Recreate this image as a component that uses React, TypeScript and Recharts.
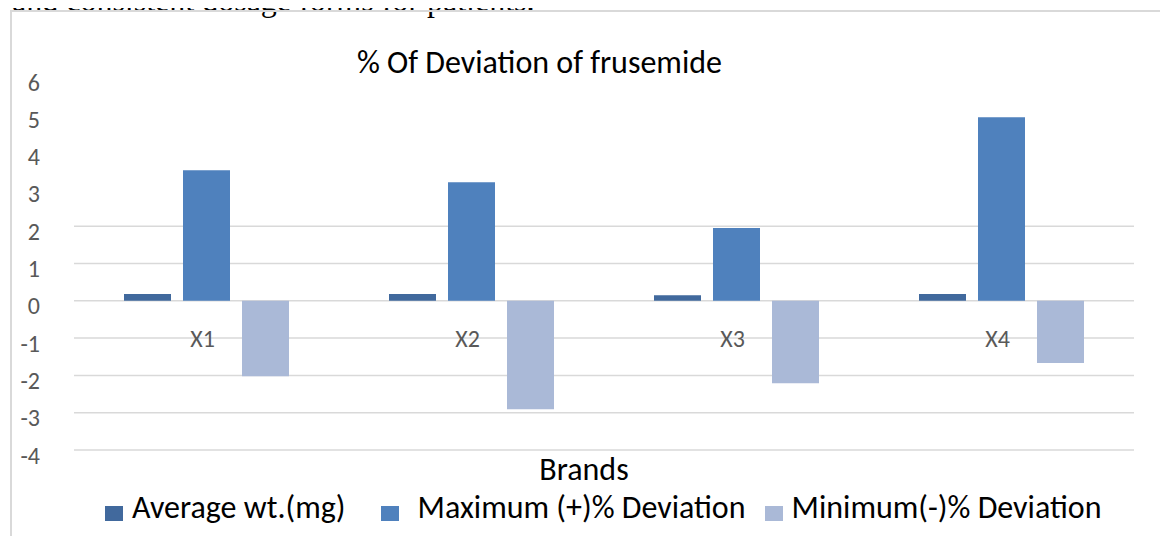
import React from 'react';
import { BarChart, Bar, XAxis, YAxis, CartesianGrid, Legend } from 'recharts';

const categories = ['X1', 'X2', 'X3', 'X4'];
const averageWt = [0.18, 0.18, 0.15, 0.18];
const maxDeviation = [3.5, 3.18, 1.95, 4.92];
const minDeviation = [-2.02, -2.91, -2.21, -1.67];
const yTicks = [6, 5, 4, 3, 2, 1, 0, -1, -2, -3, -4];
const gridValues = [2, 1, 0, -1, -2, -3, -4];

const seriesNames = ['Average wt.(mg)', 'Maximum (+)% Deviation', 'Minimum(-)% Deviation'];
const seriesColors = ['#41699d', '#4f81bd', '#aab9d7'];

const data = categories.map((c, i) => ({
  name: c,
  avg: averageWt[i],
  max: maxDeviation[i],
  min: minDeviation[i],
}));

const FONT = 'Carlito, Calibri, Lato, sans-serif';

const YTick = (props: any) => {
  const { y, payload } = props;
  return (
    <text x={40} y={y + 5} textAnchor="end" dominantBaseline="central" fontFamily={FONT} fontSize={24} fill="#595959">
      {payload.value}
    </text>
  );
};

const XTick = (props: any) => {
  const { x, y, payload } = props;
  return (
    <text x={x - 4} y={y - 112} textAnchor="middle" dominantBaseline="central" fontFamily={FONT} fontSize={24} fill="#595959">
      {payload.value}
    </text>
  );
};

const legendGaps = [0, 35, 19];
const keyTextGaps = [9, 19, 9];

const LegendContent = () => (
  <div style={{ display: 'flex', alignItems: 'flex-start', fontFamily: FONT, fontSize: 32, color: '#000', whiteSpace: 'pre', lineHeight: '38px' }}>
    {seriesNames.map((n, i) => (
      <div key={n} style={{ display: 'flex', alignItems: 'flex-start', marginLeft: legendGaps[i] }}>
        <div style={{ width: 18, height: 15, background: seriesColors[i], marginRight: keyTextGaps[i], marginTop: 17 }} />
        <span>{n}</span>
      </div>
    ))}
  </div>
);

export default function App() {
  return (
    <div style={{ position: 'relative', width: 1168, height: 544, margin: -8, overflow: 'hidden', background: '#fff' }}>
      <div style={{ position: 'absolute', left: 12, top: -14.7, fontFamily: "'Liberation Serif', 'Times New Roman', serif", fontSize: 32, lineHeight: '30px', color: '#000', whiteSpace: 'nowrap' }}>
        and consistent dosage forms for patients.
      </div>
      <div style={{ position: 'absolute', left: 10, top: 10, width: 1300, height: 700, border: '2px solid #d9d9d9', boxSizing: 'border-box' }} />
      <div style={{ position: 'absolute', left: 0, top: 0 }}>
        <BarChart width={1168} height={544} data={data} margin={{ top: 77, right: 34, bottom: 64, left: 0 }} barSize={47} barGap={12}>
          <CartesianGrid horizontal vertical={false} horizontalValues={gridValues} stroke="#d9d9d9" strokeWidth={1.5} />
          <XAxis dataKey="name" height={30} axisLine={false} tickLine={false} tickSize={0} tickMargin={0} tick={<XTick />} interval={0} />
          <YAxis width={74} domain={[-4, 6]} ticks={yTicks} axisLine={false} tickLine={false} tick={<YTick />} interval={0} />
          <Legend layout="horizontal" verticalAlign="middle" align="center" content={<LegendContent />} wrapperStyle={{ position: 'absolute', left: 105, top: 488.6, width: 'auto', height: 38 }} />
          <Bar dataKey="avg" name={seriesNames[0]} fill={seriesColors[0]} isAnimationActive={false} />
          <Bar dataKey="max" name={seriesNames[1]} fill={seriesColors[1]} isAnimationActive={false} />
          <Bar dataKey="min" name={seriesNames[2]} fill={seriesColors[2]} isAnimationActive={false} />
        </BarChart>
      </div>
      <svg width={1168} height={544} style={{ position: 'absolute', left: 0, top: 0, pointerEvents: 'none' }}>
        <text x={539.5} y={73} textAnchor="middle" fontFamily={FONT} fontSize={32} fill="#000">% Of Deviation of frusemide</text>
        <text x={584} y={480} textAnchor="middle" fontFamily={FONT} fontSize={32} fill="#000">Brands</text>
      </svg>
    </div>
  );
}
